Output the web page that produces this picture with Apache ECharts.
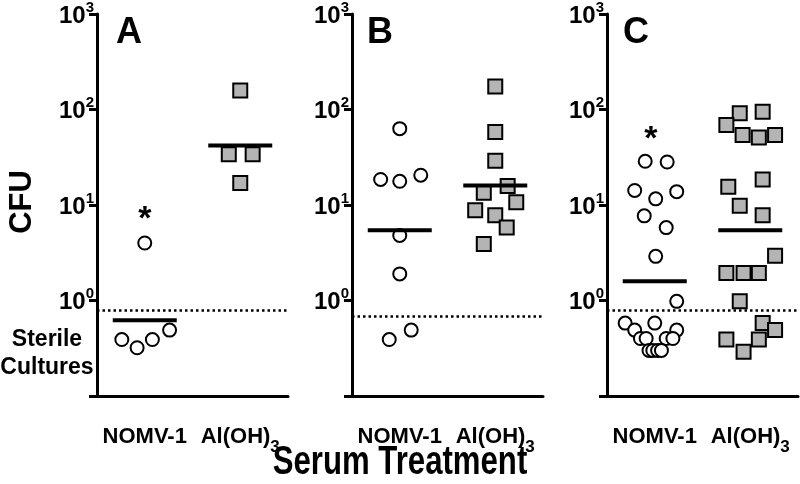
<!DOCTYPE html>
<html><head><meta charset="utf-8">
<script src="https://cdn.jsdelivr.net/npm/echarts@6/dist/echarts.min.js"></script>
<style>html,body{margin:0;padding:0;background:#fff}#c{width:800px;height:484px}</style>
</head><body><div id="c"></div>
<script>
// ---- data ----
const categories = ['NOMV-1', 'Al(OH)3'];
const panelLetters = ['A', 'B', 'C'];
const xTitle = 'Serum Treatment';
const yTitle = 'CFU';
const sterileText = 'Sterile\nCultures';

// Panel A
const nomvA = [4, 0.39, 0.32, 0.39, 0.49];
const nomvAJitter = [0, -0.24, -0.08, 0.08, 0.26];
const alA = [158, 34, 34, 17];
const alAJitter = [0, -0.12, 0.13, 0];
const meanA = [0.62, 42];
const limitA = 0.79;
const starA = [0, 7];

// Panel B
const nomvB = [63, 18.5, 17.7, 20.5, 4.8, 1.9, 0.39, 0.49];
const nomvBJitter = [0, -0.2, 0, 0.22, 0, 0, -0.11, 0.12];
const alB = [174, 58, 29, 15.8, 13.4, 10.7, 8.8, 7.8, 5.8, 3.9];
const alBJitter = [0, 0, 0, 0.13, -0.12, 0.22, -0.21, 0, 0.12, -0.12];
const meanB = [5.45, 16.0];
const limitB = 0.68;
const starB = null;

// Panel C
const nomvC = [28.7, 28.2, 14.2, 13.8, 11.6, 7.7, 5.8, 2.9, 0.98,
               0.58, 0.58, 0.49, 0.49, 0.40, 0.40, 0.40, 0.40, 0.30, 0.30, 0.30, 0.30];
const nomvCJitter = [-0.1, 0.13, -0.21, 0.23, 0.01, -0.11, 0.12, 0.01, 0.23,
                     -0.31, 0, -0.21, 0.23, -0.15, -0.09, 0.12, 0.19, -0.06, -0.02, 0.03, 0.07];
const alC = [91.5, 95, 69, 54, 51, 54, 15.5, 18.5, 9.8, 7.8, 2.94, 1.94, 1.94, 1.94,
             0.98, 0.58, 0.49, 0.39, 0.39, 0.29];
const alCJitter = [-0.11, 0.13, -0.25, -0.08, 0.09, 0.26, -0.23, 0.13, -0.11, 0.13, 0.26,
                   -0.25, -0.07, 0.09, -0.11, 0.13, 0.26, -0.25, 0.09, -0.07];
const meanC = [1.59, 5.45];
const limitC = 0.79;
const starC = [-0.04, 48];

// ---- build ----
const panels = [
  {nomv: nomvA, nj: nomvAJitter, al: alA, aj: alAJitter, mean: meanA, limit: limitA, star: starA},
  {nomv: nomvB, nj: nomvBJitter, al: alB, aj: alBJitter, mean: meanB, limit: limitB, star: starB},
  {nomv: nomvC, nj: nomvCJitter, al: alC, aj: alCJitter, mean: meanC, limit: limitC, star: starC}
];
const gridLefts = [97, 352, 607];
const FONT = '"Liberation Sans", Arial, sans-serif';

const grid = [], xAxis = [], yAxis = [], series = [];
panels.forEach((p, i) => {
  grid.push({left: gridLefts[i], top: 12, width: 191, height: 384, containLabel: false});
  xAxis.push({
    type: 'category', gridIndex: i, data: categories, boundaryGap: true, position: 'bottom',
    axisLine: {onZero: false, lineStyle: {color: '#000', width: 3}},
    axisTick: {alignWithLabel: true, length: 8, lineStyle: {color: '#000', width: 3}},
    axisLabel: {
      margin: 30, interval: 0, color: '#000',
      formatter: v => v.indexOf('(OH)3') >= 0 ? '{n|' + v.replace('(OH)3', '(OH)') + '}{s|3}' : '{n|' + v + '}',
      rich: {
        n: {fontFamily: FONT, fontWeight: 'bold', fontSize: 22, lineHeight: 23, verticalAlign: 'top', color: '#000'},
        s: {fontFamily: FONT, fontWeight: 'bold', fontSize: 17, lineHeight: 17, padding: [13, 0, 0, 0], verticalAlign: 'top', color: '#000'}
      }
    },
    splitLine: {show: false}
  });
  xAxis.push({type: 'value', gridIndex: i, min: -0.5, max: 1.5, show: false, position: 'top'});
  yAxis.push({
    type: 'log', logBase: 10, gridIndex: i, min: 0.1, max: 1000,
    axisLine: {show: true, onZero: false, lineStyle: {color: '#000', width: 3}},
    axisTick: {show: true, length: 8, lineStyle: {color: '#000', width: 3}},
    splitLine: {show: false}, minorTick: {show: false},
    axisLabel: {
      margin: 3, color: '#000',
      formatter: v => {
        const e = Math.round(Math.log10(v));
        return e < 0 ? '' : '{b|10}{s|' + e + '}';
      },
      rich: {
        b: {fontFamily: FONT, fontWeight: 'bold', fontSize: 24, lineHeight: 28, verticalAlign: 'bottom', color: '#000'},
        s: {fontFamily: FONT, fontWeight: 'bold', fontSize: 15, lineHeight: 15, verticalAlign: 'top', color: '#000'}
      }
    }
  });
  const xi = 2 * i + 1;
  series.push({
    type: 'scatter', xAxisIndex: xi, yAxisIndex: i, z: 3,
    symbol: 'circle', symbolSize: 13,
    itemStyle: {color: '#fff', borderColor: '#000', borderWidth: 2, opacity: 1},
    data: p.nomv.map((v, k) => [0 + p.nj[k], v]),
    markLine: {
      silent: true, symbol: ['none', 'none'], label: {show: false},
      lineStyle: {color: '#000', width: 2.5, type: [2.5, 3], opacity: 1},
      data: [{yAxis: p.limit}]
    }
  });
  series.push({
    type: 'scatter', xAxisIndex: xi, yAxisIndex: i, z: 3,
    symbol: 'rect', symbolSize: 14,
    itemStyle: {color: '#b4b4b4', borderColor: '#000', borderWidth: 2, opacity: 1},
    data: p.al.map((v, k) => [1 + p.aj[k], v])
  });
  series.push({
    type: 'scatter', xAxisIndex: xi, yAxisIndex: i, z: 4,
    symbol: 'rect', symbolSize: [64, 4],
    itemStyle: {color: '#000', opacity: 1},
    data: p.mean.map((v, k) => [k, v])
  });
  if (p.star) {
    series.push({
      type: 'scatter', xAxisIndex: xi, yAxisIndex: i, z: 5,
      symbol: 'circle', symbolSize: 1, itemStyle: {color: '#fff', opacity: 0},
      label: {show: true, position: 'inside', formatter: '*', color: '#000', opacity: 1,
              fontFamily: FONT, fontWeight: 'bold', fontSize: 34},
      data: [p.star]
    });
  }
});

const letterPos = [[129, 33], [380, 33], [636, 33]];
const graphic = panelLetters.map((t, i) => ({
  type: 'text', x: letterPos[i][0], y: letterPos[i][1],
  style: {text: t, fill: '#000', font: 'bold 36px ' + FONT, align: 'center', verticalAlign: 'middle'}
}));
graphic.push({
  type: 'text', x: 22, y: 202, rotation: Math.PI / 2,
  style: {text: yTitle, fill: '#000', font: 'bold 31px ' + FONT, align: 'center', verticalAlign: 'middle'}
});
graphic.push({
  type: 'text', x: 47, y: 354,
  style: {text: sterileText, fill: '#000', font: 'bold 23px ' + FONT, align: 'center', verticalAlign: 'middle', lineHeight: 28}
});
graphic.push({
  type: 'text', x: 400, y: 463, scaleX: 0.76, originX: 0, originY: 0,
  style: {text: xTitle, fill: '#000', font: 'bold 41px ' + FONT, align: 'center', verticalAlign: 'middle'}
});

const chart = echarts.init(document.getElementById('c'), null, {renderer: 'canvas'});
chart.setOption({
  backgroundColor: '#fff', animation: false,
  grid, xAxis, yAxis, series, graphic
});
</script></body></html>
